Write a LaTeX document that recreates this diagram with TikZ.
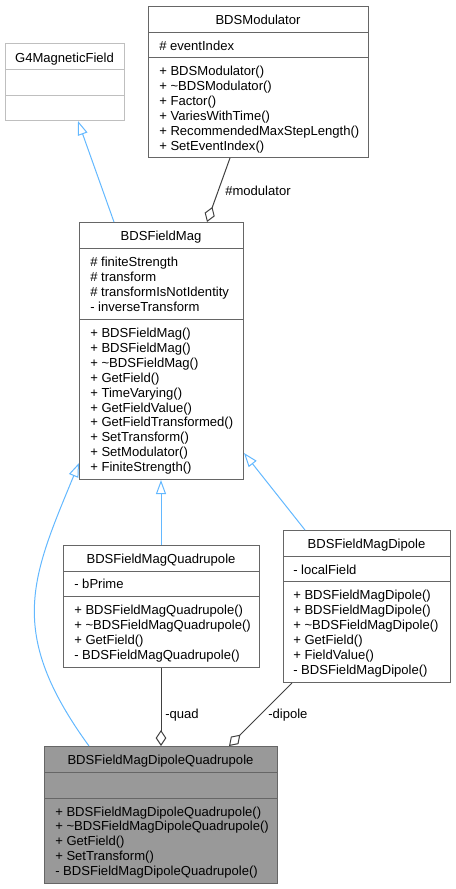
\documentclass[tikz,border=0pt]{standalone}
\usepackage{fontspec}
\setmainfont{Liberation Sans}
\usetikzlibrary{arrows.meta,calc}
\definecolor{edgegray}{HTML}{404040}
\definecolor{boxgray}{HTML}{666666}
\definecolor{lightbox}{HTML}{BFBFBF}
\definecolor{inhblue}{HTML}{63B8FF}
\definecolor{dqfill}{HTML}{999999}
\newcommand\dfont{\fontsize{9.8}{11.25}\selectfont}
\tikzset{
 umlbox/.style={draw=boxgray, line width=0.75pt, anchor=north west, inner sep=0pt, fill=white},
 ctitle/.style={anchor=base, inner sep=0pt, font=\dfont},
 member/.style={anchor=base west, inner sep=0pt, font=\dfont},
 divider/.style={draw=boxgray, line width=0.75pt},
 inherit/.style={draw=inhblue, line width=0.75pt, -{Triangle[open, length=10.5pt, width=7.5pt, fill=white]}},
 aggr/.style={draw=edgegray, line width=0.75pt, -{Diamond[open, length=12pt, width=8pt, fill=white]}},
 elabel/.style={anchor=base west, inner sep=0pt, font=\dfont}
}
\newcommand\memb[5]{% name, x, y0, step, list
 \foreach \t [count=\i] in {#5} {\node[member] (#1\i) at (#2,{#3+#4*(\i-1)}) {\t};}}
\begin{document}
\begin{tikzpicture}[x=0.75pt,y=-0.75pt]
\useasboundingbox (0,0) rectangle (455,889);
% ---- BDSModulator
\node[umlbox, minimum width=165pt, minimum height=113.25pt] (mod) at (148,6) {};
\draw[divider] ($(mod.north west)+(0,26)$) -- ($(mod.north east)+(0,26)$);
\draw[divider] ($(mod.north west)+(0,51)$) -- ($(mod.north east)+(0,51)$);
\node[ctitle] (modt) at (258,24) {BDSModulator};
\memb{moda}{159}{50}{15}{\# eventIndex}
\memb{modm}{159}{75}{15}{+ BDSModulator(),+ \textasciitilde BDSModulator(),+ Factor(),+ VariesWithTime(),+ RecommendedMaxStepLength(),+ SetEventIndex()}
% ---- G4MagneticField
\node[umlbox, draw=lightbox, minimum width=89.25pt, minimum height=57.75pt] (g4) at (5,43) {};
\draw[divider, draw=lightbox] ($(g4.north west)+(0,26)$) -- ($(g4.north east)+(0,26)$);
\draw[divider, draw=lightbox] ($(g4.north west)+(0,52)$) -- ($(g4.north east)+(0,52)$);
\node[ctitle] (g4t) at (64.5,62) {G4MagneticField};
% ---- BDSFieldMag
\node[umlbox, minimum width=123pt, minimum height=192.75pt] (mag) at (79,222) {};
\draw[divider] ($(mag.north west)+(0,26)$) -- ($(mag.north east)+(0,26)$);
\draw[divider] ($(mag.north west)+(0,97)$) -- ($(mag.north east)+(0,97)$);
\node[ctitle] (magt) at (161,240) {BDSFieldMag};
\memb{maga}{90}{266.5}{15}{\# finiteStrength,\# transform,\# transformIsNotIdentity,- inverseTransform}
\memb{magm}{90}{337.5}{14.9}{+ BDSFieldMag(),+ BDSFieldMag(),+ \textasciitilde BDSFieldMag(),+ GetField(),+ TimeVarying(),+ GetFieldValue(),+ GetFieldTransformed(),+ SetTransform(),+ SetModulator(),+ FiniteStrength()}
% ---- BDSFieldMagQuadrupole
\node[umlbox, minimum width=147pt, minimum height=91.5pt] (quad) at (63,545) {};
\draw[divider] ($(quad.north west)+(0,26)$) -- ($(quad.north east)+(0,26)$);
\draw[divider] ($(quad.north west)+(0,51)$) -- ($(quad.north east)+(0,51)$);
\node[ctitle] (quadt) at (161,563) {BDSFieldMagQuadrupole};
\memb{quada}{74}{588.5}{15}{- bPrime}
\memb{quadm}{74}{614}{15}{+ BDSFieldMagQuadrupole(),+ \textasciitilde BDSFieldMagQuadrupole(),+ GetField(),- BDSFieldMagQuadrupole()}
% ---- BDSFieldMagDipole
\node[umlbox, minimum width=125.25pt, minimum height=114pt] (dip) at (283,530) {};
\draw[divider] ($(dip.north west)+(0,26)$) -- ($(dip.north east)+(0,26)$);
\draw[divider] ($(dip.north west)+(0,51)$) -- ($(dip.north east)+(0,51)$);
\node[ctitle] (dipt) at (366.5,548) {BDSFieldMagDipole};
\memb{dipa}{293}{574}{15}{- localField}
\memb{dipm}{293}{599}{15}{+ BDSFieldMagDipole(),+ BDSFieldMagDipole(),+ \textasciitilde BDSFieldMagDipole(),+ GetField(),+ FieldValue(),- BDSFieldMagDipole()}
% ---- BDSFieldMagDipoleQuadrupole
\node[umlbox, fill=dqfill, minimum width=174.75pt, minimum height=102.75pt] (dq) at (44,746) {};
\draw[divider] ($(dq.north west)+(0,26)$) -- ($(dq.north east)+(0,26)$);
\draw[divider] ($(dq.north west)+(0,52)$) -- ($(dq.north east)+(0,52)$);
\node[ctitle] (dqt) at (160.5,764) {BDSFieldMagDipoleQuadrupole};
\memb{dqm}{55}{816}{14.9}{+ BDSFieldMagDipoleQuadrupole(),+ \textasciitilde BDSFieldMagDipoleQuadrupole(),+ GetField(),+ SetTransform(),- BDSFieldMagDipoleQuadrupole()}
% ---- connectors
\draw[inherit] ($(mag.north west)+(35,0)$) -- ($(g4.south west)+(73,0)$);
\draw[aggr] ($(mod.south west)+(82,0)$) -- ($(mag.north west)+(128,0)$);
\node[elabel] (lmod) at (225,195) {\#modulator};
\draw[inherit] ($(quad.north west)+(98,0)$) -- ($(mag.south west)+(82,0)$);
\draw[inherit] ($(dip.north west)+(22,0)$) -- ($(mag.north east)+(0,231)$);
\draw[inherit] ($(dq.north west)+(45,0)$) .. controls (6,632) and (31.5,578) .. ($(mag.north west)+(0,241)$);
\draw[aggr] ($(quad.south west)+(98,0)$) -- ($(dq.north west)+(117,0)$);
\node[elabel] (lquad) at (165,718.5) {-quad};
\draw[aggr] ($(dip.south west)+(9,0)$) -- ($(dq.north west)+(185,0)$);
\node[elabel] (ldip) at (268,718.5) {-dipole};
\end{tikzpicture}
\end{document}
